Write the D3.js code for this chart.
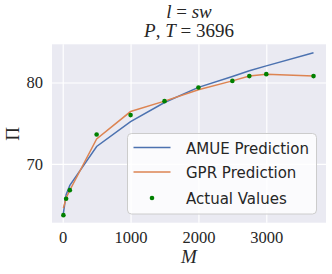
<!DOCTYPE html>
<html><head><meta charset="utf-8">
<script src="https://cdn.jsdelivr.net/npm/d3@7"></script>
<style>body{margin:0;background:#fff}svg{display:block}</style>
</head><body>
<script>
const mValues = [10, 50, 105, 500, 1000, 1500, 2000, 2500, 2750, 3000, 3696];
const actual  = [63.69, 65.7, 66.76, 73.6, 75.99, 77.71, 79.39, 80.2, 80.79, 81.03, 80.79];
const amue    = [63.93, 66.2, 67.35, 72.13, 75.2, 77.54, 79.4, 80.74, 81.44, 82.05, 83.65];
const gpr     = [64.55, 65.8, 66.75, 73.07, 76.43, 77.71, 79.1, 80.2, 80.79, 81.03, 80.79];
const xTicks = [0, 1000, 2000, 3000];
const yTicks = [70, 80];
const xLim = [-158, 3880];
const yLim = [62.76, 84.7];
const seriesNames = ["AMUE Prediction", "GPR Prediction", "Actual Values"];

const W = 332, H = 274;
const m = {l: 52, r: 326, t: 44.3, b: 222.7};
const svg = d3.select("body").append("svg").attr("width", W).attr("height", H);
const x = d3.scaleLinear().domain(xLim).range([m.l, m.r]);
const y = d3.scaleLinear().domain(yLim).range([m.b, m.t]);

svg.append("rect").attr("x", m.l).attr("y", m.t).attr("width", m.r - m.l).attr("height", m.b - m.t).attr("fill", "#EAEAF2");

const serif = "'Liberation Serif', 'DejaVu Serif', serif";
const gx = svg.append("g").attr("transform", `translate(0,${m.b})`)
  .call(d3.axisBottom(x).tickValues(xTicks).tickSize(-(m.b - m.t)).tickPadding(9).tickFormat(d3.format("d")));
const gy = svg.append("g").attr("transform", `translate(${m.l},0)`)
  .call(d3.axisLeft(y).tickValues(yTicks).tickSize(-(m.r - m.l)).tickPadding(9));
[gx, gy].forEach(g => {
  g.select(".domain").remove();
  g.selectAll(".tick line").attr("stroke", "#fff").attr("stroke-width", 1.2);
  g.selectAll(".tick text").attr("fill", "#262626").style("font-family", serif).style("font-size", "16.5px");
});

const line = (vals) => d3.line().x((d, i) => x(mValues[i])).y(d => y(d))(vals);
svg.append("path").attr("d", line(amue)).attr("fill", "none").attr("stroke", "#4C72B0").attr("stroke-width", 1.5);
svg.append("path").attr("d", line(gpr)).attr("fill", "none").attr("stroke", "#DD8452").attr("stroke-width", 1.5);
svg.append("g").selectAll("circle").data(actual).join("circle")
  .attr("cx", (d, i) => x(mValues[i])).attr("cy", d => y(d)).attr("r", 2.3).attr("fill", "green");

// legend
const lg = svg.append("g");
lg.append("rect").attr("x", 127.5).attr("y", 133.5).attr("width", 189).attr("height", 80.5).attr("rx", 4)
  .attr("fill", "#fff").attr("fill-opacity", 0.8).attr("stroke", "#cccccc").attr("stroke-width", 1);
const sans = "'DejaVu Sans', sans-serif";
const rows = [147.5, 172, 198];
lg.append("line").attr("x1", 133.5).attr("x2", 170.5).attr("y1", rows[0]).attr("y2", rows[0]).attr("stroke", "#4C72B0").attr("stroke-width", 1.5);
lg.append("line").attr("x1", 133.5).attr("x2", 170.5).attr("y1", rows[1]).attr("y2", rows[1]).attr("stroke", "#DD8452").attr("stroke-width", 1.5);
lg.append("circle").attr("cx", 152).attr("cy", rows[2]).attr("r", 2.3).attr("fill", "green");
seriesNames.forEach((n, i) => {
  lg.append("text").attr("x", 186).attr("y", rows[i] + 6).text(n)
    .attr("fill", "#262626").style("font-family", sans).style("font-size", "15px");
});

// title
const t1 = svg.append("text").attr("x", 189).attr("y", 17.5).attr("text-anchor", "middle")
  .attr("fill", "#262626").style("font-family", serif).style("font-size", "19px");
t1.append("tspan").style("font-style", "italic").text("l");
t1.append("tspan").text(" = ");
t1.append("tspan").style("font-style", "italic").text("sw");
const t2 = svg.append("text").attr("x", 189).attr("y", 36.5).attr("text-anchor", "middle")
  .attr("fill", "#262626").style("font-family", serif).style("font-size", "19px");
t2.append("tspan").style("font-style", "italic").text("P");
t2.append("tspan").text(", ");
t2.append("tspan").style("font-style", "italic").text("T");
t2.append("tspan").text(" = 3696");

svg.append("text").attr("x", 189).attr("y", 262.5).attr("text-anchor", "middle")
  .attr("fill", "#262626").style("font-family", serif).style("font-size", "19px").style("font-style", "italic").text("M");
svg.append("text").attr("transform", "translate(19,134) rotate(-90)").attr("text-anchor", "middle")
  .attr("fill", "#262626").style("font-family", serif).style("font-size", "19px").text("Π");
</script>
</body></html>
